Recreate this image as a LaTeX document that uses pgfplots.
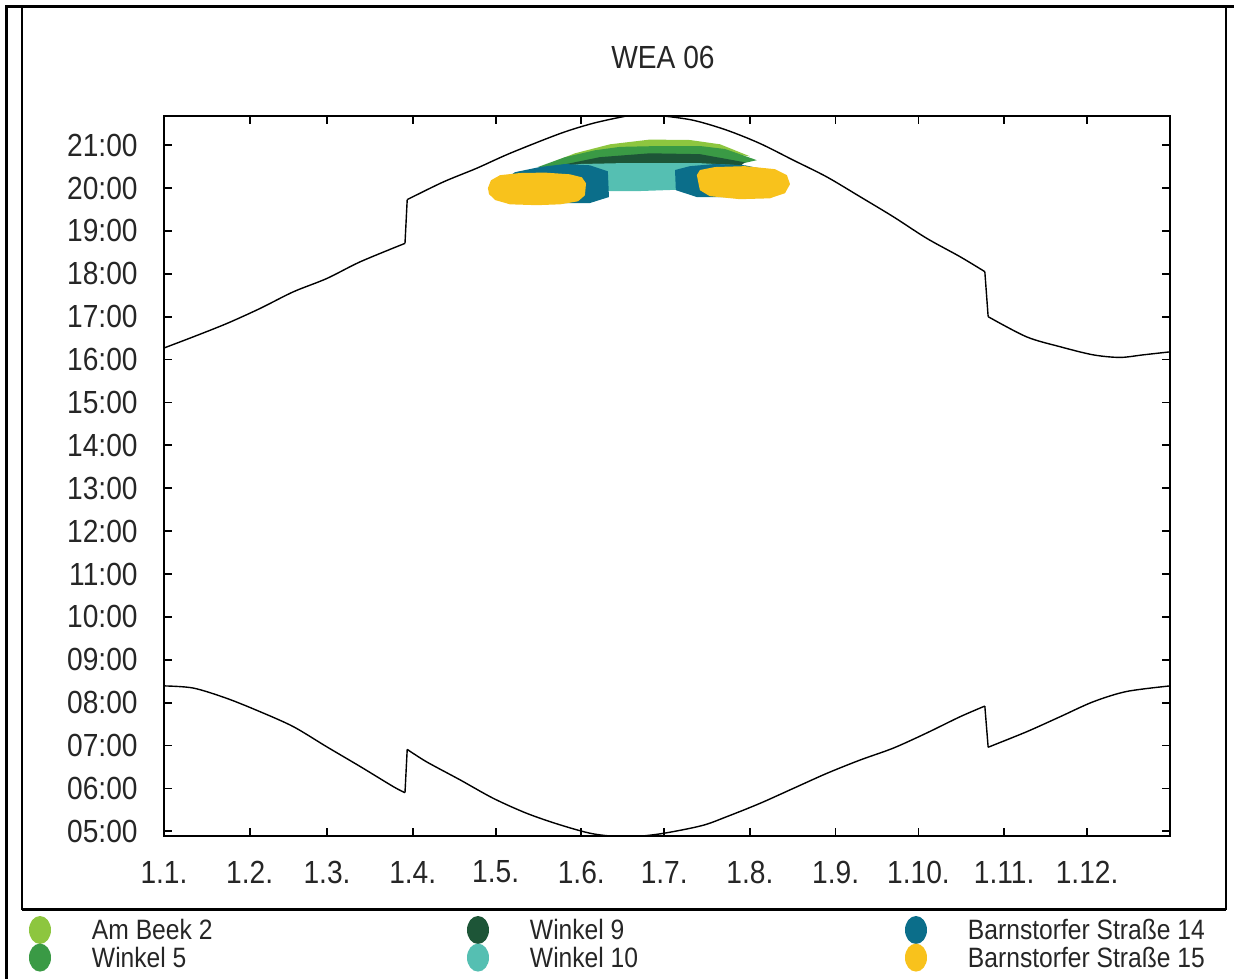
\documentclass[border=0pt]{standalone}
\usepackage{pgfplots}
\pgfplotsset{compat=1.18}
\usepackage{fontspec}
\setmainfont{Liberation Sans}[FakeStretch=0.88]
\definecolor{cAB}{HTML}{8DC63F}
\definecolor{cWf}{HTML}{3A9A45}
\definecolor{cWn}{HTML}{1D5537}
\definecolor{cWt}{HTML}{55BFB2}
\definecolor{cBa}{HTML}{0B6E8A}
\definecolor{cBb}{HTML}{F8C21C}
\begin{document}
\begin{tikzpicture}
\begin{axis}[
  at={(0pt,0pt)}, anchor=south west, scale only axis,
  width=503pt, height=360pt,
  xmin=0, xmax=364, ymin=4.89, ymax=21.68,
  xtick={0,31,59,90,120,151,181,212,243,273,304,334},
  xticklabels={1.1.,1.2.,1.3.,1.4.,1.5.,1.6.,1.7.,1.8.,1.9.,1.10.,1.11.,1.12.},
  ytick={5,6,7,8,9,10,11,12,13,14,15,16,17,18,19,20,21},
  yticklabels={05:00,06:00,07:00,08:00,09:00,10:00,11:00,12:00,13:00,14:00,15:00,16:00,17:00,18:00,19:00,20:00,21:00},
  tick align=inside, major tick length=4pt,
  xtick pos=both, ytick pos=both,
  /pgf/number format/assume math mode=true,
  tick label style={font=\fontsize{16pt}{18pt}\selectfont, text=black!85},
  xticklabel style={anchor=center, inner sep=0pt, yshift=-18pt},
  yticklabel style={anchor=east, inner sep=0pt, xshift=-13pt},
  axis line style={line width=0.9pt},
  every tick/.style={black, line width=0.9pt},
  title={WEA 06},
  title style={at={(0.5,1)}, anchor=center, yshift=23.5pt, xshift=-2pt, font=\fontsize{16pt}{18pt}\selectfont, text=black!85},
  legend columns=3,
  legend cell align=left,
  legend style={at={(0,0)}, anchor=north west, xshift=-67.5pt, yshift=-40pt,
    draw=none, fill=none, inner sep=0pt, outer sep=0pt, row sep=-2pt, column sep=0pt,
    font=\fontsize{14pt}{16pt}\selectfont, text=black!85,
    nodes={inner sep=0pt, text height=10pt, text depth=4pt}},
  legend image code/.code={\fill[#1, draw=none] (5.5pt,1.8pt) ellipse [x radius=5.5pt, y radius=7pt]; \path[draw=none, fill=none] (0pt,0pt) -- (31.5pt,0pt);},
]
% Am Beek 2
\addplot[fill=cAB, draw=none, forget plot] coordinates {(139.7,20.58) (148.7,20.81) (161.4,21.02) (175.8,21.13) (190.3,21.12) (201.2,21.02) (212.0,20.74) (193.9,20.88) (157.7,20.84)} -- cycle;
% Winkel 5
\addplot[fill=cWf, draw=none, forget plot] coordinates {(135.3,20.49) (145.1,20.72) (155.9,20.88) (165.0,20.96) (179.5,20.98) (193.9,20.98) (203.0,20.91) (214.5,20.65) (208.4,20.56) (175.8,20.60) (143.3,20.49)} -- cycle;
% Winkel 9
\addplot[fill=cWn, draw=none, forget plot] coordinates {(143.3,20.53) (157.7,20.72) (175.8,20.81) (193.9,20.79) (210.2,20.60) (208.4,20.51) (175.8,20.51) (145.1,20.46)} -- cycle;
% Winkel 10
\addplot[fill=cWt, draw=none, forget plot] coordinates {(128.1,20.32) (137.8,20.46) (150.5,20.56) (165.0,20.58) (179.5,20.58) (193.9,20.58) (208.4,20.53) (220.0,20.39) (217.5,20.18) (190.3,19.97) (172.2,19.93) (159.6,19.93) (143.3,20.04) (128.8,20.16)} -- cycle;
% Barnstorfer Strasse 14
\addplot[fill=cBa, draw=none, forget plot] coordinates {(122.6,20.18) (127.0,20.37) (136.0,20.49) (145.1,20.56) (154.1,20.53) (160.6,20.39) (161.0,19.79) (154.1,19.65) (143.3,19.65) (132.4,19.72) (123.4,19.95)} -- cycle;
\addplot[fill=cBa, draw=none, forget plot] coordinates {(184.9,20.42) (185.2,19.95) (192.8,19.79) (208.4,19.79) (220.0,20.23) (218.5,20.42) (210.2,20.53) (199.4,20.56) (190.3,20.51)} -- cycle;
% Barnstorfer Strasse 15
\addplot[fill=cBb, draw=none, forget plot] coordinates {(152.7,20.11) (152.3,19.83) (149.8,19.69) (143.3,19.62) (134.9,19.60) (125.2,19.62) (119.8,19.72) (117.6,19.86) (117.2,20.00) (118.3,20.18) (121.6,20.30) (128.8,20.35) (137.8,20.36) (146.9,20.32) (151.2,20.25)} -- cycle;
\addplot[fill=cBb, draw=none, forget plot] coordinates {(192.8,20.30) (193.9,19.95) (197.5,19.81) (208.4,19.74) (219.2,19.76) (224.7,19.88) (226.5,20.09) (225.4,20.30) (221.1,20.44) (210.2,20.51) (199.4,20.49) (193.9,20.42)} -- cycle;
% sunset
\addplot[black, line width=0.7pt, smooth, forget plot] coordinates {
(0,16.27) (10.6,16.53) (22.7,16.84) (34.7,17.19) (46.8,17.58) (58.9,17.89) (71,18.28) (87.2,18.71)};
\addplot[black, line width=0.7pt, forget plot] coordinates {(87.2,18.71) (88,19.73)};
\addplot[black, line width=0.7pt, smooth, forget plot] coordinates {
(88,19.73) (101,20.14) (113.1,20.46) (125.2,20.81) (143.3,21.27) (155.3,21.51) (167.4,21.68) (173,21.72) (179.5,21.69) (191.5,21.58) (203.6,21.35) (215.6,21.04) (227.7,20.65) (239.8,20.26) (251.8,19.80) (263.9,19.33) (275.9,18.83) (288,18.40) (297,18.05)};
\addplot[black, line width=0.7pt, forget plot] coordinates {(297,18.05) (298.2,17.00)};
\addplot[black, line width=0.7pt, smooth, forget plot] coordinates {
(298.2,17.00) (312.1,16.53) (324.2,16.30) (336.2,16.11) (345.9,16.05) (354.3,16.11) (364,16.18)};
% sunrise
\addplot[black, line width=0.7pt, smooth, forget plot] coordinates {
(0,8.39) (10.6,8.34) (22.7,8.10) (34.7,7.79) (46.8,7.44) (58.9,6.97) (71,6.51) (83,6.04) (87.2,5.90)};
\addplot[black, line width=0.7pt, forget plot] coordinates {(87.2,5.90) (88,6.91)};
\addplot[black, line width=0.7pt, smooth, forget plot] coordinates {
(88,6.91) (95,6.62) (107.1,6.20) (119.1,5.77) (131.2,5.42) (143.3,5.15) (155.3,4.94) (167.4,4.87) (179.5,4.94) (194.5,5.13) (203.6,5.34) (215.6,5.65) (227.7,6.00) (239.8,6.35) (251.8,6.66) (263.9,6.94) (275.9,7.29) (288,7.67) (297,7.92)};
\addplot[black, line width=0.7pt, forget plot] coordinates {(297,7.92) (298.2,6.96)};
\addplot[black, line width=0.7pt, smooth, forget plot] coordinates {
(298.2,6.96) (312.1,7.32) (324.2,7.67) (336.2,8.02) (348.3,8.26) (364,8.39)};
\addlegendimage{fill=cAB}
\addlegendentry{\makebox[187.5pt][l]{Am Beek 2}}
\addlegendimage{fill=cWn}
\addlegendentry{\makebox[187.5pt][l]{Winkel 9}}
\addlegendimage{fill=cBa}
\addlegendentry{Barnstorfer Straße 14}
\addlegendimage{fill=cWf}
\addlegendentry{\makebox[187.5pt][l]{Winkel 5}}
\addlegendimage{fill=cWt}
\addlegendentry{\makebox[187.5pt][l]{Winkel 10}}
\addlegendimage{fill=cBb}
\addlegendentry{Barnstorfer Straße 15}
\end{axis}
\begin{scope}[x=0.5pt, y=-0.5pt, shift={(-82pt,418pt)}]
\draw[line width=1.5pt] (7,979) -- (7,7) -- (1234,7);
\draw[line width=1pt] (22,7) -- (22,910);
\draw[line width=1.5pt] (22,910) -- (1226,910);
\draw[line width=1.2pt] (1226,7) -- (1226,910);
\end{scope}
\pgfresetboundingbox
\path[use as bounding box] (-82pt,418pt) rectangle (536pt,-71.5pt);
\end{tikzpicture}
\end{document}
